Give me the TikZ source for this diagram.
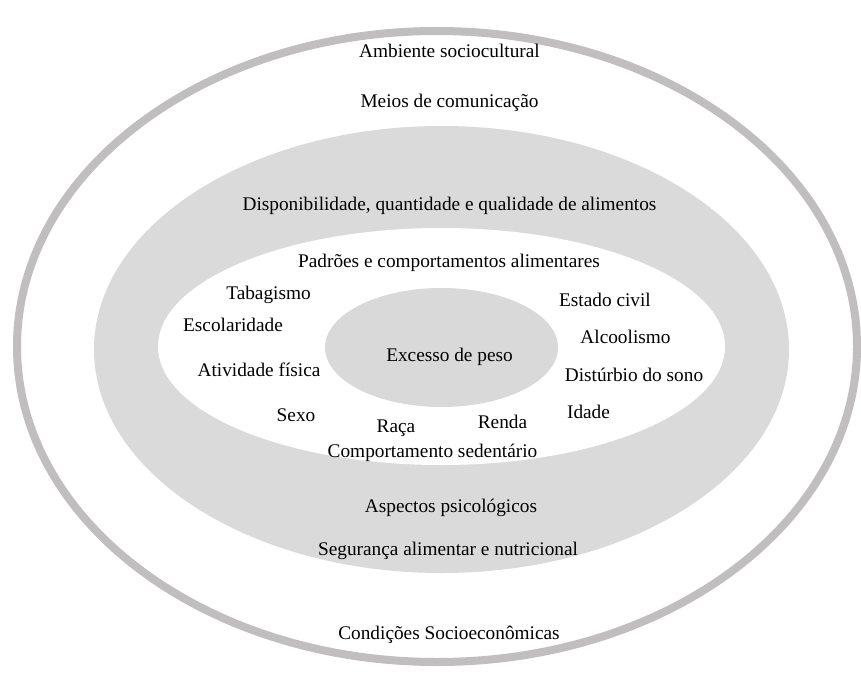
\documentclass[tikz,border=0pt]{standalone}
\usepackage{fontspec}
\setmainfont{Liberation Serif}
\definecolor{ringgray}{RGB}{192,190,191}
\definecolor{bandgray}{RGB}{218,218,218}
\definecolor{coregray}{RGB}{217,217,217}
\begin{document}
\begin{tikzpicture}[x=1pt,y=-1pt,
  lbl/.style={font=\fontsize{19.3}{23}\selectfont, inner sep=0pt, anchor=base, text=black}]
\useasboundingbox (0,0) rectangle (861,677);
\fill[white] (0,0) rectangle (861,677);
% rings
\draw[ringgray, line width=8pt, fill=white] (437,346.5) ellipse [x radius=420, y radius=315.5];
\fill[bandgray] (441.5,349.5) ellipse [x radius=347.5, y radius=223.5];
\fill[white] (441.5,346.5) ellipse [x radius=283.5, y radius=118.5];
\fill[coregray] (441.5,347.5) ellipse [x radius=116.5, y radius=59.5];
% outer ring texts
\node[lbl] (amb) at (449.5,58) {Ambiente sociocultural};
\node[lbl] (meios) at (449.5,107) {Meios de comunicação};
\node[lbl] (cond) at (449,639) {Condições Socioeconômicas};
% band texts
\node[lbl] (disp) at (449.5,210) {Disponibilidade, quantidade e qualidade de alimentos};
\node[lbl] (asp) at (451,512) {Aspectos psicológicos};
\node[lbl] (seg) at (448,555) {Segurança alimentar e nutricional};
% inner white texts
\node[lbl] (padr) at (449,267) {Padrões e comportamentos alimentares};
\node[lbl] (tab) at (268.5,299) {Tabagismo};
\node[lbl] (esc) at (233,331) {Escolaridade};
\node[lbl] (ativ) at (259,376) {Atividade física};
\node[lbl] (sexo) at (296,421) {Sexo};
\node[lbl] (raca) at (396,432) {Raça};
\node[lbl] (renda) at (502.5,428) {Renda};
\node[lbl] (comp) at (432.5,457) {Comportamento sedentário};
\node[lbl] (estado) at (605,306) {Estado civil};
\node[lbl] (alc) at (625.5,343) {Alcoolismo};
\node[lbl] (dist) at (634,381) {Distúrbio do sono};
\node[lbl] (idade) at (588.5,418) {Idade};
% core
\node[lbl] (exc) at (449.5,361) {Excesso de peso};
\end{tikzpicture}
\end{document}
